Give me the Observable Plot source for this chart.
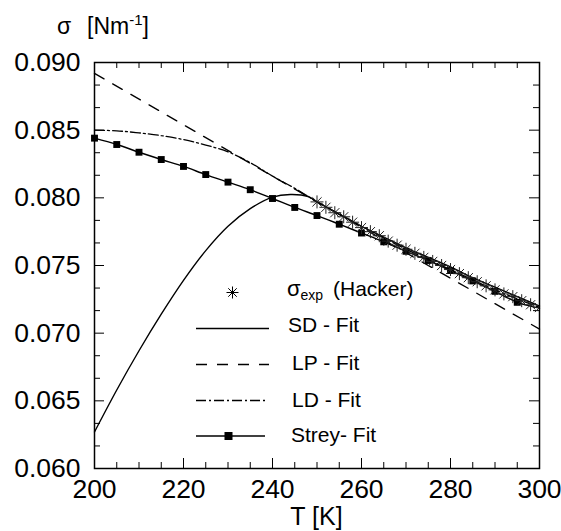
<!DOCTYPE html>
<html><head><meta charset="utf-8">
<script src="https://cdn.jsdelivr.net/npm/d3@7"></script>
<script src="https://cdn.jsdelivr.net/npm/@observablehq/plot@0.6"></script>
<style>body{margin:0;background:#fff}#chart{position:absolute;left:0;top:0}</style>
</head><body><div id="chart"></div>
<script>
// ---- data ----
const xTickLabels = [200, 220, 240, 260, 280, 300];
const yTickLabels = [0.060, 0.065, 0.070, 0.075, 0.080, 0.085, 0.090];

const expT = [250,252,254,256,258,260,262,264,266,268,270,272,274,276,278,280,282,284,286,288,290,292,294,296,298,300];
const expSigma = [0.0797,0.0793,0.0789,0.0786,0.0782,0.0778,0.0775,0.0772,0.0768,0.0765,0.0762,0.0759,0.0756,0.0753,0.0750,0.0747,0.0744,0.0741,0.0738,0.0735,0.0732,0.0729,0.0727,0.0724,0.0721,0.0719];

const sdT = [200,205,210,215,220,225,230,235,240,244,248,250,255,260,265,270,275,280,285,290,295,300];
const sdSigma = [0.0627,0.0658,0.0687,0.0714,0.0739,0.0761,0.0779,0.0792,0.08005,0.08025,0.0801,0.0797,0.0788,0.0779,0.0771,0.0763,0.0756,0.0749,0.0741,0.0734,0.0727,0.0720];

const lpT = [200, 250, 300];
const lpSigma = [0.0892, 0.0797, 0.0703];

const ldT = [200,205,210,215,220,225,230,235,240,245,250,255,260,270,280,290,300];
const ldSigma = [0.0850,0.08495,0.0848,0.0846,0.0843,0.0839,0.0834,0.0826,0.0816,0.0807,0.0797,0.0788,0.0779,0.0762,0.0747,0.0732,0.0719];

const streyT = [200,205,210,215,220,225,230,235,240,245,250,255,260,265,270,275,280,285,290,295,300];
const streySigma = [0.08441,0.08394,0.08337,0.08283,0.08232,0.08172,0.08116,0.08060,0.07995,0.07929,0.07869,0.07805,0.07740,0.07675,0.07605,0.07537,0.07463,0.07386,0.07309,0.07228,0.07185];

const legendLabels = ["(Hacker)", "SD - Fit", "LP - Fit", "LD - Fit", "Strey- Fit"];

// ---- tables ----
const toRows = (T, s) => T.map((t, i) => ({T: t, s: s[i]}));
const exp = toRows(expT, expSigma);
const sd = toRows(sdT, sdSigma);
const lp = toRows(lpT, lpSigma);
const ld = toRows(ldT, ldSigma);
const strey = toRows(streyT, streySigma);

const W = 561, H = 531, ML = 94, MR = 22, MT = 62, MB = 63;
const PW = W - ML - MR, PH = H - MT - MB;

const star = {
  draw(ctx, size) {
    const r = Math.sqrt(size / Math.PI);
    const d = r * Math.SQRT1_2;
    ctx.moveTo(-r, 0); ctx.lineTo(r, 0);
    ctx.moveTo(0, -r); ctx.lineTo(0, r);
    ctx.moveTo(-d, -d); ctx.lineTo(d, d);
    ctx.moveTo(-d, d); ctx.lineTo(d, -d);
  }
};

const xMajor = [220, 240, 260, 280];
const xMinor = d3.range(205, 300, 5).filter(v => v % 20 !== 0);
const yMajor = [0.065, 0.070, 0.075, 0.080, 0.085];
const yMinor = d3.range(1, 18).filter(i => i % 3 !== 0).map(i => 0.060 + i * 0.005 / 3);

const tickOpts = {stroke: "#000", strokeWidth: 1};
const FONT = "'Liberation Sans', Arial, Helvetica, sans-serif";

const plot = Plot.plot({
  width: W, height: H,
  marginLeft: ML, marginRight: MR, marginTop: MT, marginBottom: MB,
  style: {fontFamily: FONT, background: "#fff", color: "#000"},
  x: {domain: [200, 300]},
  y: {domain: [0.060, 0.090]},
  marks: [
    Plot.axisX(xTickLabels, {anchor: "bottom", tickSize: 0, tickPadding: 11, fontSize: 26.5, label: null, tickFormat: d => String(d)}),
    Plot.axisY(yTickLabels, {anchor: "left", tickSize: 0, tickPadding: 14, fontSize: 26.5, label: null, tickFormat: d3.format(".3f")}),
    // inner ticks
    Plot.tickX(xMinor, {x: d => d, insetTop: PH - 6, ...tickOpts}),
    Plot.tickX(xMajor, {x: d => d, insetTop: PH - 10, ...tickOpts}),
    Plot.tickX(xMinor, {x: d => d, insetBottom: PH - 6, ...tickOpts}),
    Plot.tickX(xMajor, {x: d => d, insetBottom: PH - 10, ...tickOpts}),
    Plot.tickY(yMinor, {y: d => d, insetRight: PW - 6, ...tickOpts}),
    Plot.tickY(yMajor, {y: d => d, insetRight: PW - 10, ...tickOpts}),
    Plot.tickY(yMinor, {y: d => d, insetLeft: PW - 6, ...tickOpts}),
    Plot.tickY(yMajor, {y: d => d, insetLeft: PW - 10, ...tickOpts}),
    // curves
    Plot.line(lp, {x: "T", y: "s", stroke: "#000", strokeWidth: 1.3, strokeDasharray: "11,10"}),
    Plot.line(ld, {x: "T", y: "s", stroke: "#000", strokeWidth: 1.3, strokeDasharray: "10,3,2,3", curve: "catmull-rom"}),
    Plot.line(sd, {x: "T", y: "s", stroke: "#000", strokeWidth: 1.4, curve: "catmull-rom"}),
    Plot.line(strey, {x: "T", y: "s", stroke: "#000", strokeWidth: 1.4, curve: "catmull-rom"}),
    Plot.dot(strey.filter(d => d.T < 300), {x: "T", y: "s", symbol: "square", r: 3.9, fill: "#000", stroke: null}),
    Plot.dot(exp, {x: "T", y: "s", symbol: star, r: 6.5, stroke: "#222", strokeWidth: 1, fill: "none", clip: true}),
    Plot.frame({stroke: "#000", strokeWidth: 1.5})
  ]
});
document.getElementById("chart").appendChild(plot);

// ---- title & legend (text) ----
const svg = d3.select(plot);
const title = svg.append("text").attr("x", 57).attr("y", 34).attr("text-anchor", "start")
  .attr("font-family", FONT).attr("font-size", 23).attr("fill", "#000");
title.append("tspan").text("σ");
title.append("tspan").attr("x", 87).text("[Nm");
title.append("tspan").attr("font-size", 15).attr("dy", -9).text("-1");
title.append("tspan").attr("font-size", 23).attr("dy", 9).text("]");

const lg = svg.append("g").attr("font-family", FONT).attr("font-size", 21).attr("fill", "#000").attr("text-anchor", "start");
// star
const sr = 6, sdg = sr * Math.SQRT1_2;
lg.append("path").attr("transform", "translate(232.5,292.5)")
  .attr("d", `M${-sr},0L${sr},0M0,${-sr}L0,${sr}M${-sdg},${-sdg}L${sdg},${sdg}M${-sdg},${sdg}L${sdg},${-sdg}`)
  .attr("stroke", "#000").attr("fill", "none");
const t0 = lg.append("text").attr("x", 287).attr("y", 296);
t0.append("tspan").attr("font-size", 22).text("σ");
t0.append("tspan").attr("font-size", 14).attr("dy", 4).text("exp");
t0.append("tspan").attr("x", 333).attr("dy", -4).text(legendLabels[0]);
// SD
lg.append("line").attr("x1", 196).attr("x2", 269).attr("y1", 328.5).attr("y2", 328.5).attr("stroke", "#000").attr("stroke-width", 1.4);
lg.append("text").attr("x", 288).attr("y", 332).text(legendLabels[1]);
// LP
lg.append("line").attr("x1", 196).attr("x2", 269).attr("y1", 364.5).attr("y2", 364.5).attr("stroke", "#000").attr("stroke-width", 1.3).attr("stroke-dasharray", "11,10");
lg.append("text").attr("x", 292).attr("y", 369.5).text(legendLabels[2]);
// LD
lg.append("line").attr("x1", 196).attr("x2", 266).attr("y1", 400.5).attr("y2", 400.5).attr("stroke", "#000").attr("stroke-width", 1.3).attr("stroke-dasharray", "10,3,2,3");
lg.append("text").attr("x", 292).attr("y", 407).text(legendLabels[3]);
// Strey
lg.append("line").attr("x1", 196).attr("x2", 265).attr("y1", 436).attr("y2", 436).attr("stroke", "#000").attr("stroke-width", 1.4);
lg.append("rect").attr("x", 224.5).attr("y", 432).attr("width", 8).attr("height", 8).attr("fill", "#000");
lg.append("text").attr("x", 291).attr("y", 442).text(legendLabels[4]);

// x-axis label
svg.append("text").attr("x", 316.5).attr("y", 525).attr("text-anchor", "middle")
  .attr("font-family", FONT).attr("font-size", 25).attr("fill", "#000").text("T [K]");
</script>
</body></html>
